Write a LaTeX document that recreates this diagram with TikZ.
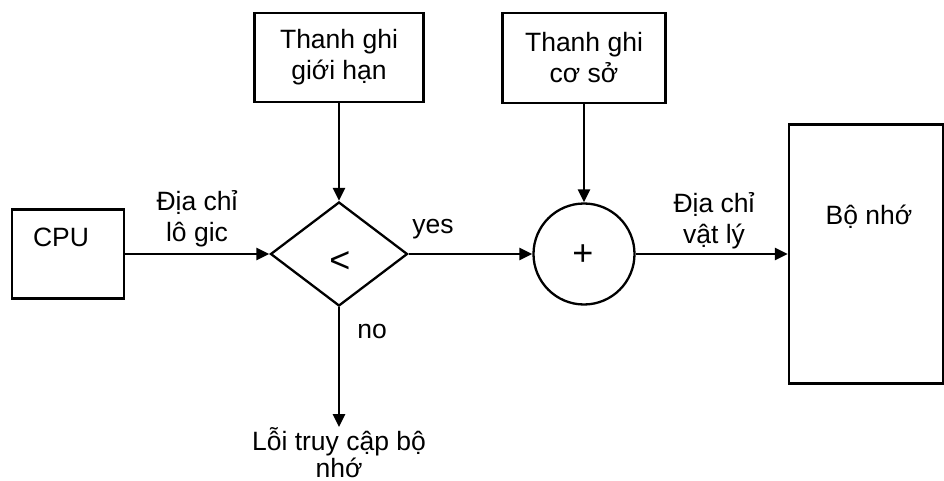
\documentclass[tikz,border=0pt]{standalone}
\usepackage{fontspec}
\setmainfont{Liberation Sans}
\usetikzlibrary{shapes.geometric, arrows.meta}

\begin{document}
\begin{tikzpicture}[x=1pt,y=-1pt,font=\fontsize{26.5}{31}\selectfont,
  box/.style={draw,line width=2.3pt,inner sep=0pt},
  cond/.style={draw,diamond,line width=2.3pt,inner sep=0pt,minimum width=137pt,minimum height=104pt},
  adder/.style={draw,circle,line width=2.3pt,inner sep=0pt,minimum size=101pt},
  lbl/.style={inner sep=0pt,align=center},
  sym/.style={inner sep=0pt,font=\fontsize{36}{40}\selectfont},
  arr/.style={line width=2.8pt,-{Triangle[length=13pt,width=12pt]}}]
\useasboundingbox (0,0) rectangle (944,481);
% boxes
\node[box,minimum width=112pt,minimum height=89pt] (cpu) at (68,254) {};
\node[lbl] (cpulbl) at (61,237) {CPU};
\node[box,minimum width=169pt,minimum height=89pt,align=center] (limit) at (339,57.5) {Thanh ghi\\giới hạn};
\node[box,minimum width=163pt,minimum height=90pt,align=center] (base) at (584,58) {Thanh ghi\\cơ sở};
\node[box,minimum width=154pt,minimum height=259pt] (mem) at (866,254) {};
\node[lbl] (memlbl) at (869,217) {Bộ nhớ};
% compare and add
\node[cond] (cmp) at (339,254) {};
\node[sym] (cmplbl) at (340,262) {<};
\node[adder] (add) at (584,254) {};
\node[sym] (addlbl) at (583,255) {+};
\node[lbl,anchor=north,font=\fontsize{26.5}{27}\selectfont] (err) at (339,427) {Lỗi truy cập bộ\\nhớ};
% arrows
\draw[arr] (cpu) -- (cmp);
\draw[arr] (limit) -- (cmp);
\draw[arr] (cmp) -- (add);
\draw[arr] (base) -- (add);
\draw[arr] (add) -- (mem);
\draw[arr] (cmp) -- (err);
% texts on the arrows
\node[lbl] (logaddr) at (197,219) {Địa chỉ\\lô gic};
\node[lbl] (physaddr) at (714,221) {Địa chỉ\\vật lý};
\node[lbl] (yes) at (433,229) {yes};
\node[lbl] (no) at (372,331) {no};
\end{tikzpicture}
\end{document}
